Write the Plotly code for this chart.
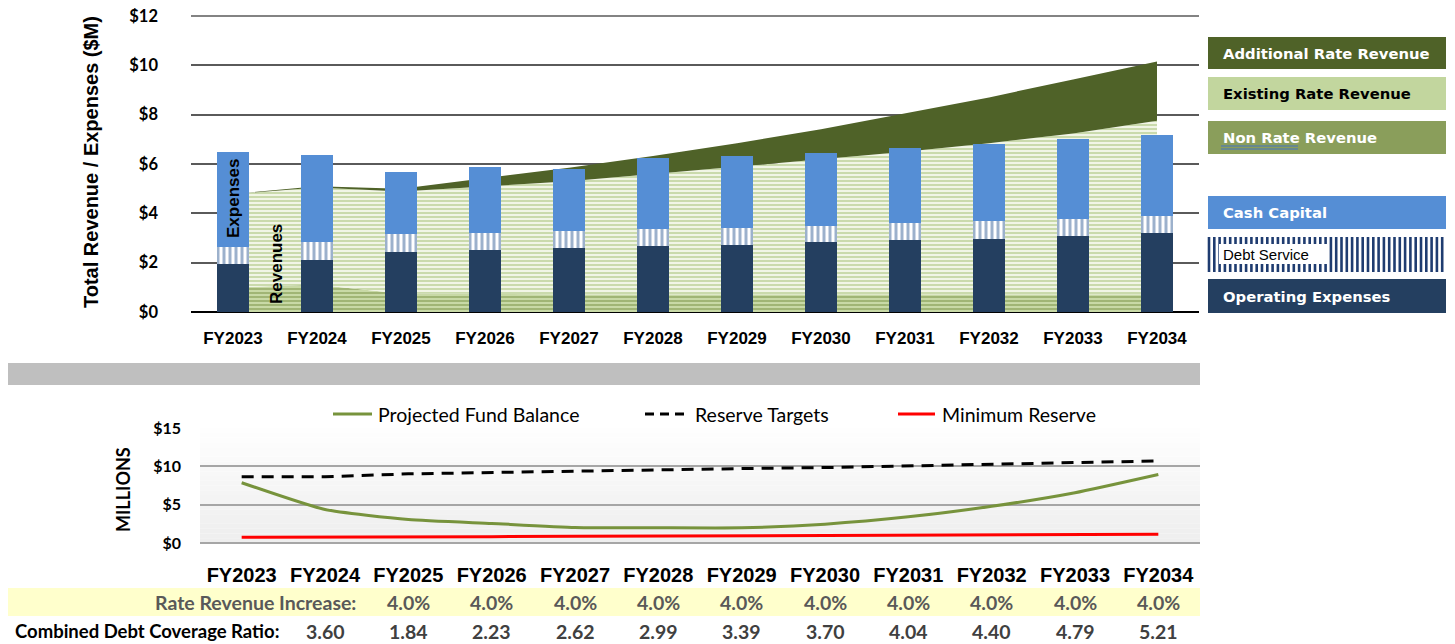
import plotly.graph_objects as go

# ---------------- data ----------------
years = ["FY2023", "FY2024", "FY2025", "FY2026", "FY2027", "FY2028",
         "FY2029", "FY2030", "FY2031", "FY2032", "FY2033", "FY2034"]

non_rate_revenue = [1.00, 1.10, 0.75, 0.72, 0.72, 0.72, 0.72, 0.72, 0.72, 0.72, 0.72, 0.72]
existing_rate_revenue = [3.78, 3.95, 4.13, 4.36, 4.58, 4.87, 5.17, 5.47, 5.78, 6.12, 6.52, 7.03]
additional_rate_revenue = [0.00, 0.05, 0.12, 0.34, 0.55, 0.73, 0.95, 1.22, 1.54, 1.86, 2.19, 2.41]

operating_expenses = [1.95, 2.11, 2.43, 2.51, 2.58, 2.68, 2.73, 2.82, 2.92, 2.97, 3.07, 3.19]
debt_service = [0.70, 0.73, 0.72, 0.69, 0.69, 0.67, 0.68, 0.68, 0.69, 0.73, 0.71, 0.69]
cash_capital = [3.84, 3.52, 2.51, 2.68, 2.53, 2.89, 2.93, 2.96, 3.04, 3.12, 3.23, 3.31]

fund_balance = [7.86, 4.36, 3.07, 2.55, 2.03, 1.98, 1.98, 2.46, 3.41, 4.79, 6.56, 8.94]
reserve_targets = [8.63, 8.63, 9.02, 9.20, 9.41, 9.54, 9.71, 9.84, 10.06, 10.23, 10.45, 10.71]
minimum_reserve = [0.74, 0.74, 0.80, 0.83, 0.87, 0.90, 0.93, 0.97, 1.00, 1.04, 1.08, 1.13]

rate_increase_years = years[2:]
rate_increase = ["4.0%", "4.0%", "4.0%", "4.0%", "4.0%", "4.0%", "4.0%", "4.0%", "4.0%", "4.0%"]
coverage_years = years[1:]
coverage_ratio = [3.60, 1.84, 2.23, 2.62, 2.99, 3.39, 3.70, 4.04, 4.40, 4.79, 5.21]

top_axis_max = 12

# page has an 8px body margin: the figure is sized to fit the window exactly
OFF = 8
W, H = 1455 - OFF, 644 - OFF


def px(x):
    return (x - OFF) / W


def py(y):
    return 1 - (y - OFF) / H


# ---------------- colours ----------------
C_ADD = "#4F6228"
C_CASH = "#558ED5"
C_OPER = "#243F60"
C_DEBT = "#3A649A"
C_GRID = "#5A5A5A"

fig = go.Figure()

# ---------------- revenue areas (base axes, drawn below bars) ----------------
fig.add_trace(go.Scatter(
    x=years, y=non_rate_revenue, name="Non Rate Revenue", stackgroup="rev",
    mode="lines", line=dict(width=0, color="#77933C"), fillcolor="#C3D69B",
    fillpattern=dict(shape="-", fgcolor="#6F8A3A", bgcolor="#C8D9A6", size=4, solidity=0.45),
    xaxis="x", yaxis="y", showlegend=False, hoverinfo="skip"))
fig.add_trace(go.Scatter(
    x=years, y=existing_rate_revenue, name="Existing Rate Revenue", stackgroup="rev",
    mode="lines", line=dict(width=0, color="#9BBB59"), fillcolor="#D7E4BD",
    fillpattern=dict(shape="-", fgcolor="#9CB866", bgcolor="#F1F5E6", size=4, solidity=0.45),
    xaxis="x", yaxis="y", showlegend=False, hoverinfo="skip"))
fig.add_trace(go.Scatter(
    x=years, y=additional_rate_revenue, name="Additional Rate Revenue", stackgroup="rev",
    mode="lines", line=dict(width=0, color=C_ADD), fillcolor=C_ADD,
    xaxis="x", yaxis="y", showlegend=False, hoverinfo="skip"))

# ---------------- expense bars (overlay axes, drawn above areas) ----------------
fig.add_trace(go.Bar(x=years, y=operating_expenses, name="Operating Expenses",
                     marker=dict(color=C_OPER, line=dict(width=0)),
                     xaxis="x3", yaxis="y3", showlegend=False))
fig.add_trace(go.Bar(x=years, y=debt_service, name="Debt Service",
                     marker=dict(color="white", line=dict(width=0),
                                 pattern=dict(shape="|", fgcolor=C_DEBT, bgcolor="white",
                                              size=6, solidity=0.5)),
                     xaxis="x3", yaxis="y3", showlegend=False))
fig.add_trace(go.Bar(x=years, y=cash_capital, name="Cash Capital",
                     marker=dict(color=C_CASH, line=dict(width=0)),
                     xaxis="x3", yaxis="y3", showlegend=False))

# ---------------- fund balance lines ----------------
fig.add_trace(go.Scatter(x=years, y=fund_balance, name="Projected Fund Balance", mode="lines",
                         line=dict(color="#77933C", width=3, shape="spline", smoothing=0.5),
                         xaxis="x2", yaxis="y2", showlegend=False))
fig.add_trace(go.Scatter(x=years, y=reserve_targets, name="Reserve Targets", mode="lines",
                         line=dict(color="black", width=3, dash="12px,8px"),
                         xaxis="x2", yaxis="y2", showlegend=False))
fig.add_trace(go.Scatter(x=years, y=minimum_reserve, name="Minimum Reserve", mode="lines",
                         line=dict(color="#FF0000", width=3),
                         xaxis="x2", yaxis="y2", showlegend=False))

shapes = []
annotations = []

# top gridline at the axis maximum (plotly drops the gridline on the plot edge)
shapes.append(dict(type="line", xref="x domain", yref="y", x0=0, x1=1,
                   y0=top_axis_max, y1=top_axis_max,
                   line=dict(color=C_GRID, width=1.5), layer="below"))

# bottom chart background gradient
n_strips = 24
for i in range(n_strips):
    g = int(255 - (255 - 238) * (i + 0.5) / n_strips)
    shapes.append(dict(type="rect", xref="x2 domain", yref="y2 domain",
                       x0=0, x1=1, y0=1 - (i + 1) / n_strips, y1=1 - i / n_strips,
                       fillcolor=f"rgb({g},{g},{g})", line=dict(width=0), layer="below"))

# grey separator band
shapes.append(dict(type="rect", xref="paper", yref="paper", x0=px(5), x1=px(1200),
                   y0=py(385), y1=py(363), fillcolor="#BFBFBF", line=dict(width=0)))
# yellow table band
shapes.append(dict(type="rect", xref="paper", yref="paper", x0=px(5), x1=px(1200),
                   y0=py(616), y1=py(588), fillcolor="#FFFFCC", line=dict(width=0)))

# ---------------- right-hand legend (top chart) ----------------
LX0, LX1 = 1208, 1446
legend_boxes = [
    ("Additional Rate Revenue", 37, 69, C_ADD, "white"),
    ("Existing Rate Revenue", 77, 110, "#C2D69E", "black"),
    ("Non Rate Revenue", 121, 154, "#8A9E5B", "white"),
    ("Cash Capital", 196, 229, C_CASH, "white"),
    ("Operating Expenses", 279, 313, C_OPER, "white"),
]
for label, y0, y1, fc, tc in legend_boxes:
    shapes.append(dict(type="rect", xref="paper", yref="paper", x0=px(LX0), x1=px(LX1),
                       y0=py(y1), y1=py(y0), fillcolor=fc, line=dict(width=0)))
    annotations.append(dict(x=px(1221), y=py((y0 + y1) / 2), xref="paper", yref="paper",
                            text=f"<b>{label}</b>", showarrow=False, xanchor="left",
                            yanchor="middle",
                            font=dict(family="DejaVu Sans", size=14.8, color=tc)))

# Debt Service legend box: vertical stripes
x = LX0 + 1
while x < LX1 - 1:
    shapes.append(dict(type="line", xref="paper", yref="paper", x0=px(x), x1=px(x),
                       y0=py(272), y1=py(237), line=dict(color="#1F3C70", width=2.6)))
    x += 5.3
shapes.append(dict(type="rect", xref="paper", yref="paper", x0=px(1219), x1=px(1329),
                   y0=py(264), y1=py(244), fillcolor="white", line=dict(width=0)))
annotations.append(dict(x=px(1221), y=py(255), xref="paper", yref="paper",
                        text="Debt Service", showarrow=False, xanchor="left", yanchor="middle",
                        font=dict(family="Liberation Sans", size=15, color="black")))
# spell-check underline under "Non Rate"
for yy in (146, 149):
    shapes.append(dict(type="line", xref="paper", yref="paper", x0=px(1221), x1=px(1298),
                       y0=py(yy), y1=py(yy), line=dict(color="#4472C4", width=1)))

# ---------------- bottom chart legend ----------------
leg_items = [
    ("Projected Fund Balance", 333, 372, 376, dict(color="#77933C", width=3)),
    ("Reserve Targets", 645, 690, 693, dict(color="black", width=3, dash="9px,6px")),
    ("Minimum Reserve", 898, 935, 940, dict(color="#FF0000", width=3)),
]
for label, lx0, lx1, tx, ln in leg_items:
    shapes.append(dict(type="line", xref="paper", yref="paper", x0=px(lx0), x1=px(lx1),
                       y0=py(414), y1=py(414), line=ln))
    annotations.append(dict(x=px(tx), y=py(414), xref="paper", yref="paper", text=label,
                            showarrow=False, xanchor="left", yanchor="middle",
                            font=dict(family="Lato", size=19.5, color="black")))

# ---------------- axis titles / in-chart labels ----------------
annotations.append(dict(x=px(91), y=py(162), xref="paper", yref="paper",
                        text="<b>Total Revenue / Expenses ($M)</b>", textangle=-90,
                        showarrow=False, xanchor="center", yanchor="middle",
                        font=dict(family="Liberation Sans", size=20, color="black")))
annotations.append(dict(x=px(123), y=py(490), xref="paper", yref="paper",
                        text="<b>MILLIONS</b>", textangle=-90, showarrow=False,
                        xanchor="center", yanchor="middle",
                        font=dict(family="Lato", size=18, color="black")))
annotations.append(dict(x=px(233), y=py(199), xref="paper", yref="paper",
                        text="<b>Expenses</b>", textangle=-90, showarrow=False,
                        xanchor="center", yanchor="middle",
                        font=dict(family="Liberation Sans", size=17, color="black")))
annotations.append(dict(x=px(276), y=py(264), xref="paper", yref="paper",
                        text="<b>Revenues</b>", textangle=-90, showarrow=False,
                        xanchor="center", yanchor="middle",
                        font=dict(family="Liberation Sans", size=17, color="black")))

# ---------------- table rows ----------------
annotations.append(dict(x=px(358), y=py(602), xref="paper", yref="paper",
                        text="<b>Rate Revenue Increase:</b>", showarrow=False,
                        xanchor="right", yanchor="middle",
                        font=dict(family="Lato", size=19.5, color="#595959")))
for yr, val in zip(rate_increase_years, rate_increase):
    annotations.append(dict(x=yr, y=py(602), xref="x2", yref="paper", text=f"<b>{val}</b>",
                            showarrow=False, xanchor="center", yanchor="middle",
                            font=dict(family="Lato", size=19.5, color="#595959")))
annotations.append(dict(x=px(281), y=py(631), xref="paper", yref="paper",
                        text="<b>Combined Debt Coverage Ratio:</b>", showarrow=False,
                        xanchor="right", yanchor="middle",
                        font=dict(family="Lato", size=18.5, color="black")))
for yr, val in zip(coverage_years, coverage_ratio):
    annotations.append(dict(x=yr, y=py(631), xref="x2", yref="paper", text=f"<b>{val:.2f}</b>",
                            showarrow=False, xanchor="center", yanchor="middle",
                            font=dict(family="Lato", size=19.5, color="#404040")))

# ---------------- layout ----------------
fig.update_layout(
    width=W, height=H,
    margin=dict(l=0, r=0, t=0, b=0, autoexpand=False),
    paper_bgcolor="white", plot_bgcolor="rgba(0,0,0,0)",
    barmode="stack", bargap=0.61,
    showlegend=False,
    shapes=shapes, annotations=annotations,
    xaxis=dict(domain=[px(191), px(1199)], type="category", categoryorder="array",
               categoryarray=years, range=[-0.5, 11.5], showgrid=False, showline=False,
               ticks="", ticklabelstandoff=14, automargin=False,
               tickfont=dict(family="Liberation Sans", size=17, color="black", weight="bold"),
               anchor="y"),
    yaxis=dict(domain=[py(312), py(15)], range=[0, 12.04], dtick=2, tick0=0,
               tickprefix="$", ticklabeloverflow="allow",
               showgrid=True, gridcolor=C_GRID, gridwidth=1.5,
               zeroline=True, zerolinecolor="black", zerolinewidth=2,
               showline=False, ticks="", ticklabelstandoff=32, automargin=False,
               tickfont=dict(family="Lato", size=16.5, color="black", weight="bold"),
               anchor="x"),
    xaxis3=dict(overlaying="x", matches="x", type="category", visible=False,
                showgrid=False, anchor="y3", automargin=False),
    yaxis3=dict(overlaying="y", matches="y", visible=False, showgrid=False,
                zeroline=False, anchor="x3", automargin=False),
    xaxis2=dict(domain=[px(200), px(1200)], type="category", categoryorder="array",
                categoryarray=years, range=[-0.5, 11.5], showgrid=False, showline=False,
                ticks="", ticklabelstandoff=18, automargin=False,
                tickfont=dict(family="Liberation Sans", size=20, color="black", weight="bold"),
                anchor="y2"),
    yaxis2=dict(domain=[py(543), py(428)], range=[0, 15], dtick=5, tickprefix="$",
                ticklabeloverflow="allow",
                showgrid=True, gridcolor="#A6A6A6", gridwidth=1.5,
                zeroline=True, zerolinecolor="#A6A6A6", zerolinewidth=2,
                showline=False, ticks="", ticklabelstandoff=18, automargin=False,
                tickfont=dict(family="Lato", size=16, color="black", weight="bold"),
                anchor="x2"),
)

fig.write_html("out.html")
